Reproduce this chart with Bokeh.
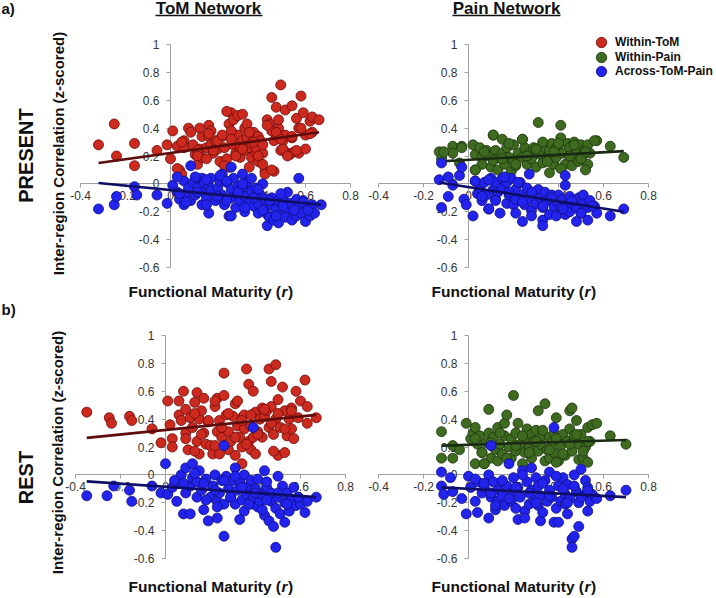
import math
import numpy as np
from bokeh.plotting import figure
from bokeh.layouts import column, row
from bokeh.models import (Range1d, LinearAxis, FixedTicker, CustomJSTickFormatter,
                          Label, Arrow, Legend, LegendItem)
from bokeh.embed import file_html
from bokeh.resources import INLINE

# ---------------- data ----------------
x_ticks = [-0.4, -0.2, 0.0, 0.2, 0.4, 0.6, 0.8]
y_ticks = [-0.6, -0.4, -0.2, 0.0, 0.2, 0.4, 0.6, 0.8, 1.0]
x_bounds = (-0.4, 0.8)
y_bounds = (-0.6, 1.0)

series_labels = ["Within-ToM", "Within-Pain", "Across-ToM-Pain"]

# a) PRESENT, ToM network
tom_present_within = [(-0.32,0.28),(-0.25,0.43),(-0.24,0.20),(-0.16,0.29),(-0.16,0.13),(-0.06,0.24),(-0.015,0.28),(0.01,0.38),(0.03,0.27),(0.04,0.10),(0.05,0.07),(0.06,0.31),(0.06,0.26),(0.08,0.40),(0.09,0.37),(0.10,0.28),(0.11,0.21),(0.12,0.14),(0.13,0.25),(0.14,0.34),(0.14,0.19),(0.16,0.26),(0.17,0.42),(0.17,0.34),(0.18,0.28),(0.18,0.38),(0.19,0.22),(0.20,0.31),(0.21,0.25),(0.22,0.16),(0.23,0.34),(0.24,0.26),(0.25,0.18),(0.26,0.43),(0.26,0.12),(0.27,0.51),(0.28,0.28),(0.28,0.46),(0.29,0.22),(0.30,0.49),(0.30,0.35),(0.31,0.26),(0.31,0.19),(0.32,0.31),(0.33,0.24),(0.33,0.40),(0.34,0.33),(0.35,0.26),(0.35,0.12),(0.36,0.19),(0.36,0.29),(0.37,0.37),(0.38,0.22),(0.38,0.26),(0.39,0.34),(0.39,0.16),(0.40,0.31),(0.41,0.22),(0.42,0.09),(0.42,0.07),(0.43,0.46),(0.44,0.43),(0.45,0.38),(0.45,0.62),(0.46,0.31),(0.46,0.09),(0.47,0.55),(0.48,0.40),(0.48,0.35),(0.48,0.46),(0.49,0.24),(0.49,0.71),(0.50,0.31),(0.51,0.53),(0.51,0.35),(0.52,0.22),(0.53,0.21),(0.54,0.33),(0.54,0.56),(0.55,0.23),(0.56,0.47),(0.57,0.22),(0.57,0.40),(0.58,0.63),(0.59,0.51),(0.60,0.35),(0.60,0.25),(0.62,0.45),(0.63,0.37),(0.63,0.48),(0.66,0.46),(0.12,0.24),(0.21,0.31),(0.27,0.38),(0.25,0.52),(0.32,0.50),(0.34,0.43),(0.00,0.18),(0.03,0.11),(0.05,0.30),(0.13,0.40),(0.17,0.36),(0.12,0.20),(0.16,0.18),(0.19,0.24),(0.23,0.35),(0.24,0.13),(0.27,0.32),(0.29,0.20),(0.32,0.25),(0.35,0.37),(0.37,0.30),(0.39,0.20),(0.41,0.14),(0.41,0.28),(0.45,0.10),(0.43,0.42),(0.47,0.37),(0.49,0.32),(0.50,0.25),(0.52,0.20),(0.56,0.24),(0.54,0.34),(0.58,0.40),(0.62,0.36)]
tom_present_across = [(-0.32,-0.18),(-0.25,-0.15),(-0.24,-0.09),(-0.16,-0.02),(-0.15,-0.08),(-0.06,-0.08),(-0.015,-0.14),(0.01,-0.01),(0.03,-0.06),(0.04,-0.11),(0.06,0.02),(0.06,-0.15),(0.07,-0.07),(0.08,-0.03),(0.09,-0.12),(0.09,0.13),(0.10,0.01),(0.11,-0.08),(0.12,0.04),(0.12,-0.03),(0.14,-0.15),(0.14,0.04),(0.15,-0.06),(0.15,0.01),(0.16,-0.10),(0.17,-0.21),(0.17,-0.02),(0.18,0.04),(0.18,-0.05),(0.20,-0.12),(0.21,-0.03),(0.22,0.02),(0.23,0.07),(0.23,-0.08),(0.24,-0.15),(0.25,0.01),(0.26,-0.23),(0.27,-0.04),(0.27,-0.10),(0.27,0.12),(0.28,0.04),(0.29,-0.17),(0.30,-0.02),(0.30,-0.08),(0.31,-0.12),(0.32,0.07),(0.32,-0.03),(0.33,-0.20),(0.33,-0.09),(0.34,0.01),(0.35,-0.14),(0.36,-0.05),(0.36,0.04),(0.37,-0.16),(0.38,-0.10),(0.38,-0.03),(0.39,-0.21),(0.39,-0.14),(0.40,-0.08),(0.41,0.00),(0.42,-0.17),(0.42,-0.11),(0.43,-0.22),(0.43,-0.30),(0.44,-0.24),(0.45,-0.15),(0.45,-0.10),(0.46,-0.26),(0.47,-0.18),(0.48,-0.12),(0.48,-0.28),(0.49,-0.22),(0.50,-0.15),(0.50,-0.10),(0.51,-0.24),(0.52,-0.06),(0.53,-0.18),(0.53,-0.14),(0.54,-0.26),(0.55,-0.20),(0.56,-0.11),(0.56,-0.23),(0.57,0.04),(0.57,-0.16),(0.58,-0.21),(0.59,-0.12),(0.60,-0.27),(0.61,-0.17),(0.62,-0.23),(0.63,-0.15),(0.64,-0.21),(0.67,-0.15),(0.03,0.05),(0.11,0.05),(0.16,0.03),(0.22,0.06),(0.04,-0.07),(0.07,-0.13),(0.12,-0.06),(0.16,-0.15),(0.21,-0.09),(0.25,-0.12),(0.30,-0.06),(0.33,-0.17),(0.37,-0.10),(0.41,-0.19),(0.44,-0.12),(0.47,-0.23),(0.50,-0.16),(0.55,-0.19),(0.59,-0.13),(0.61,-0.19),(0.25,0.02),(0.32,0.00),(0.39,-0.04),(0.27,-0.23),(0.49,-0.07)]

# a) PRESENT, Pain network
pain_present_within = [(-0.13,0.23),(-0.12,0.18),(-0.07,0.27),(-0.07,0.22),(-0.04,0.15),(-0.03,0.27),(0.02,0.28),(0.03,0.21),(0.03,0.10),(0.05,0.26),(0.06,0.19),(0.06,0.14),(0.08,0.24),(0.09,0.20),(0.10,0.12),(0.11,0.35),(0.12,0.24),(0.12,0.18),(0.13,0.10),(0.15,0.32),(0.15,0.22),(0.16,0.14),(0.17,0.26),(0.18,0.19),(0.19,0.09),(0.20,0.28),(0.20,0.16),(0.21,0.13),(0.22,0.22),(0.24,0.32),(0.24,0.19),(0.25,0.26),(0.26,0.14),(0.27,0.22),(0.28,0.18),(0.29,0.26),(0.30,0.12),(0.31,0.44),(0.32,0.21),(0.33,0.29),(0.33,0.15),(0.34,0.26),(0.35,0.19),(0.36,0.08),(0.36,0.24),(0.37,0.29),(0.38,0.14),(0.39,0.26),(0.39,0.19),(0.40,0.28),(0.41,0.42),(0.41,0.33),(0.42,0.22),(0.43,0.14),(0.44,0.29),(0.45,0.20),(0.45,0.26),(0.46,0.13),(0.47,0.30),(0.48,0.19),(0.48,0.25),(0.49,0.16),(0.50,0.28),(0.51,0.21),(0.52,0.25),(0.53,0.14),(0.53,0.28),(0.54,0.22),(0.57,0.31),(0.63,0.27),(0.69,0.19),(0.11,0.17),(-0.11,0.23),(-0.03,0.26),(0.03,0.10),(0.07,0.23),(0.11,0.35),(0.15,0.18),(0.18,0.29),(0.21,0.14),(0.24,0.32),(0.26,0.20),(0.30,0.25),(0.33,0.30),(0.35,0.16),(0.38,0.23),(0.40,0.29),(0.41,0.11),(0.45,0.20),(0.47,0.28),(0.50,0.18),(0.52,0.23),(0.56,0.31),(0.52,0.10)]
pain_present_across = [(-0.13,0.03),(-0.12,-0.17),(-0.12,0.15),(-0.09,0.05),(-0.09,-0.09),(-0.07,-0.01),(-0.04,0.06),(-0.03,0.12),(-0.02,-0.11),(-0.01,-0.15),(0.02,-0.23),(0.03,0.02),(0.04,-0.07),(0.05,-0.03),(0.06,-0.12),(0.07,0.01),(0.08,-0.08),(0.09,-0.18),(0.10,0.04),(0.11,-0.04),(0.12,-0.11),(0.12,0.01),(0.13,-0.06),(0.14,-0.21),(0.15,0.04),(0.15,-0.03),(0.17,-0.14),(0.17,0.01),(0.18,-0.08),(0.19,0.04),(0.20,-0.15),(0.21,-0.04),(0.21,-0.11),(0.23,0.01),(0.24,-0.27),(0.24,-0.08),(0.25,-0.15),(0.26,-0.03),(0.27,-0.11),(0.27,0.07),(0.28,-0.19),(0.29,-0.06),(0.30,-0.14),(0.31,-0.04),(0.32,-0.10),(0.33,-0.26),(0.33,-0.30),(0.33,-0.17),(0.34,-0.06),(0.35,-0.12),(0.36,-0.22),(0.37,-0.08),(0.38,-0.16),(0.39,-0.12),(0.39,-0.23),(0.40,-0.08),(0.41,-0.17),(0.42,-0.11),(0.43,0.06),(0.43,-0.22),(0.44,-0.15),(0.45,-0.09),(0.45,-0.20),(0.46,-0.14),(0.48,-0.27),(0.48,-0.17),(0.49,-0.10),(0.50,-0.21),(0.51,-0.14),(0.51,-0.08),(0.53,-0.26),(0.53,-0.17),(0.54,-0.12),(0.56,-0.16),(0.57,-0.21),(0.63,-0.23),(0.69,-0.18),(0.03,0.02),(0.09,0.03),(0.16,0.05),(0.22,0.01),(0.06,-0.09),(0.12,-0.12),(0.18,-0.06),(0.24,-0.13),(0.28,-0.06),(0.33,-0.16),(0.37,-0.10),(0.42,-0.18),(0.46,-0.12),(0.50,-0.21),(0.55,-0.16),(0.28,-0.23),(0.09,-0.18),(0.21,-0.21),(0.43,-0.01)]

# b) REST, ToM network
tom_rest_within = [(-0.35,0.45),(-0.25,0.41),(-0.24,0.37),(-0.16,0.42),(-0.15,0.39),(-0.06,0.33),(-0.02,0.23),(0.01,0.53),(0.02,0.36),(0.03,0.26),(0.03,0.20),(0.06,0.53),(0.06,0.43),(0.07,0.39),(0.08,0.60),(0.09,0.47),(0.09,0.30),(0.10,0.18),(0.11,0.41),(0.12,0.34),(0.13,0.52),(0.14,0.59),(0.14,0.24),(0.15,0.40),(0.15,0.15),(0.16,0.46),(0.17,0.30),(0.17,0.55),(0.18,0.22),(0.19,0.38),(0.20,0.21),(0.21,0.15),(0.22,0.49),(0.23,0.31),(0.23,0.55),(0.24,0.15),(0.24,0.39),(0.25,0.27),(0.26,0.73),(0.26,0.57),(0.27,0.43),(0.28,0.18),(0.28,0.31),(0.29,0.24),(0.30,0.42),(0.31,0.14),(0.31,0.51),(0.32,0.35),(0.32,0.53),(0.33,0.27),(0.34,0.41),(0.34,0.20),(0.34,0.08),(0.35,0.33),(0.35,0.43),(0.36,0.76),(0.37,0.24),(0.37,0.65),(0.38,0.35),(0.38,0.18),(0.39,0.60),(0.39,0.27),(0.40,0.45),(0.40,0.15),(0.41,0.31),(0.42,0.40),(0.43,0.48),(0.43,0.27),(0.44,0.42),(0.45,0.46),(0.46,0.34),(0.46,0.76),(0.47,0.67),(0.47,0.49),(0.48,0.29),(0.49,0.40),(0.49,0.79),(0.50,0.14),(0.50,0.54),(0.51,0.34),(0.52,0.63),(0.53,0.16),(0.53,0.46),(0.54,0.28),(0.55,0.40),(0.56,0.33),(0.56,0.48),(0.57,0.26),(0.58,0.60),(0.59,0.41),(0.60,0.53),(0.62,0.68),(0.63,0.37),(0.63,0.49),(0.67,0.41),(0.09,0.26),(0.13,0.17),(0.16,0.29),(0.19,0.39),(0.22,0.21),(0.25,0.34),(0.28,0.44),(0.31,0.27),(0.34,0.39),(0.36,0.22),(0.38,0.43),(0.41,0.29),(0.44,0.47),(0.47,0.37),(0.50,0.44),(0.53,0.33),(0.56,0.46),(0.48,0.17),(0.22,0.53),(0.13,0.44)]
tom_rest_across = [(-0.35,-0.15),(-0.26,-0.15),(-0.23,-0.08),(-0.16,-0.11),(-0.15,-0.19),(-0.06,-0.08),(-0.02,-0.13),(0.00,0.08),(0.01,-0.14),(0.03,-0.09),(0.05,-0.19),(0.06,-0.05),(0.07,0.00),(0.08,-0.28),(0.09,-0.13),(0.09,0.05),(0.11,-0.28),(0.11,-0.08),(0.12,0.08),(0.12,-0.02),(0.14,-0.16),(0.14,-0.05),(0.15,0.03),(0.16,-0.11),(0.17,-0.25),(0.18,-0.03),(0.19,-0.33),(0.20,-0.16),(0.21,-0.08),(0.22,0.00),(0.23,-0.19),(0.23,-0.31),(0.24,-0.13),(0.25,-0.04),(0.26,-0.44),(0.26,-0.21),(0.27,-0.01),(0.28,-0.10),(0.29,-0.16),(0.30,-0.04),(0.31,0.05),(0.31,-0.21),(0.32,-0.11),(0.33,-0.32),(0.33,-0.05),(0.34,-0.18),(0.35,0.00),(0.35,-0.26),(0.36,-0.14),(0.37,-0.08),(0.38,-0.21),(0.38,-0.04),(0.39,-0.16),(0.40,-0.10),(0.41,-0.23),(0.41,-0.03),(0.42,-0.19),(0.43,-0.14),(0.44,-0.29),(0.44,0.03),(0.45,-0.09),(0.46,-0.33),(0.47,-0.19),(0.47,-0.13),(0.48,-0.37),(0.49,-0.24),(0.49,-0.52),(0.50,-0.01),(0.50,-0.16),(0.51,-0.28),(0.52,-0.08),(0.53,-0.20),(0.53,-0.34),(0.54,-0.13),(0.55,-0.26),(0.56,-0.18),(0.57,-0.09),(0.58,-0.22),(0.59,-0.16),(0.60,-0.21),(0.62,-0.27),(0.63,-0.19),(0.67,-0.16),(0.39,0.34),(0.26,0.21),(0.04,-0.04),(0.08,-0.06),(0.13,0.01),(0.17,-0.06),(0.22,-0.11),(0.26,-0.04),(0.29,-0.16),(0.34,-0.09),(0.37,-0.21),(0.40,-0.13),(0.43,-0.25),(0.45,-0.18),(0.50,-0.13),(0.54,-0.21),(0.59,-0.16),(0.23,-0.23),(0.18,-0.18),(0.31,-0.01),(0.45,-0.05)]

# b) REST, Pain network
pain_rest_within = [(-0.12,0.31),(-0.12,0.12),(-0.07,0.12),(-0.07,0.21),(-0.04,0.18),(-0.01,0.37),(0.01,0.26),(0.02,0.30),(0.03,0.08),(0.03,0.34),(0.04,0.22),(0.05,0.28),(0.06,0.16),(0.07,0.08),(0.08,0.23),(0.09,0.30),(0.09,0.47),(0.10,0.12),(0.11,0.27),(0.12,0.18),(0.13,0.34),(0.13,0.10),(0.14,0.22),(0.15,0.15),(0.16,0.37),(0.16,0.28),(0.17,0.43),(0.18,0.20),(0.19,0.12),(0.19,0.26),(0.20,0.57),(0.21,0.17),(0.21,0.30),(0.22,0.37),(0.23,0.22),(0.24,0.08),(0.25,0.27),(0.25,0.16),(0.26,0.33),(0.27,0.20),(0.28,0.29),(0.28,0.12),(0.29,0.24),(0.30,0.32),(0.31,0.17),(0.31,0.46),(0.32,0.22),(0.33,0.28),(0.34,0.10),(0.34,0.51),(0.35,0.18),(0.36,0.27),(0.36,0.12),(0.37,0.23),(0.38,0.30),(0.38,0.16),(0.39,0.41),(0.40,0.26),(0.40,0.10),(0.41,0.21),(0.42,0.29),(0.43,0.14),(0.44,0.24),(0.45,0.33),(0.45,0.46),(0.46,0.48),(0.46,0.17),(0.47,0.28),(0.48,0.39),(0.49,0.11),(0.49,0.22),(0.50,0.29),(0.51,0.12),(0.52,0.20),(0.53,0.34),(0.53,0.09),(0.54,0.24),(0.55,0.36),(0.57,0.37),(0.63,0.28),(0.70,0.22),(0.03,0.26),(0.06,0.16),(0.10,0.23),(0.14,0.30),(0.17,0.12),(0.21,0.21),(0.24,0.28),(0.27,0.16),(0.30,0.24),(0.33,0.32),(0.36,0.18),(0.39,0.26),(0.42,0.15),(0.45,0.22),(0.48,0.29),(0.51,0.17),(0.53,0.24),(0.07,0.08),(0.39,0.09)]
pain_rest_across = [(-0.12,0.02),(-0.12,-0.08),(-0.11,-0.14),(-0.08,-0.02),(-0.07,-0.12),(-0.03,-0.17),(-0.01,-0.28),(0.00,-0.01),(0.01,-0.09),(0.03,-0.19),(0.04,-0.27),(0.04,-0.05),(0.06,-0.13),(0.07,-0.09),(0.09,0.00),(0.09,-0.31),(0.10,-0.16),(0.11,-0.05),(0.12,-0.25),(0.13,-0.11),(0.13,-0.19),(0.15,-0.05),(0.15,-0.15),(0.16,-0.22),(0.17,-0.08),(0.18,0.08),(0.19,-0.19),(0.19,-0.13),(0.20,-0.02),(0.21,-0.24),(0.22,-0.32),(0.22,-0.09),(0.23,-0.16),(0.24,0.03),(0.25,-0.26),(0.25,-0.31),(0.26,-0.05),(0.27,-0.21),(0.28,-0.11),(0.28,0.05),(0.29,-0.18),(0.30,-0.02),(0.31,-0.22),(0.31,-0.08),(0.32,-0.33),(0.32,-0.15),(0.33,-0.27),(0.34,-0.04),(0.35,-0.19),(0.36,-0.11),(0.36,0.02),(0.37,-0.16),(0.38,-0.34),(0.39,-0.24),(0.40,-0.34),(0.40,-0.08),(0.41,-0.19),(0.42,-0.02),(0.43,-0.14),(0.43,-0.21),(0.44,-0.07),(0.44,-0.28),(0.45,-0.17),(0.46,-0.46),(0.46,-0.52),(0.47,0.00),(0.47,-0.44),(0.48,-0.12),(0.49,-0.37),(0.49,-0.20),(0.50,0.04),(0.51,-0.15),(0.52,-0.04),(0.53,-0.26),(0.53,-0.09),(0.54,-0.19),(0.55,-0.14),(0.57,-0.17),(0.63,-0.15),(0.70,-0.11),(0.38,0.34),(0.10,0.21),(0.03,-0.03),(0.07,-0.06),(0.10,-0.13),(0.15,-0.04),(0.18,-0.17),(0.21,-0.09),(0.24,0.00),(0.27,-0.13),(0.30,-0.20),(0.33,-0.06),(0.36,-0.15),(0.39,-0.01),(0.42,-0.10),(0.44,-0.20),(0.47,-0.08),(0.50,-0.16),(0.53,-0.11),(0.12,-0.22)]

# fitted trend lines: (intercept, slope)
tom_present_fit = {"within": (0.222, 0.224), "across": (-0.044, -0.158)}
pain_present_fit = {"within": (0.172, 0.091), "across": (-0.023, -0.256)}
tom_rest_fit = {"within": (0.322, 0.162), "across": (-0.0855, -0.111)}
pain_rest_fit = {"within": (0.216, 0.049), "across": (-0.100, -0.085)}

# ---------------- styling ----------------
FONT = "Liberation Sans"
RED = ("#cc2a1e", "#6b0d0d", "#5e0c0c")
GREEN = ("#3e6b1f", "#1e3510", "#1b2a12")
BLUE = ("#2323ee", "#0f0f80", "#0e0e66")
AXIS_GRAY = "#a0a0a0"
TXT = "#111111"


class Panel:
    """A figure whose frame covers the whole canvas; the axes are bounded
    to the data extents and sit at pixel box `box` (page px)."""

    def __init__(self, fx, fy, fw, fh, box):
        self.fx, self.fy, self.fw, self.fh = fx, fy, fw, fh
        left, top, right, bottom = box
        ux = (x_bounds[1] - x_bounds[0]) / (right - left)
        uy = (y_bounds[1] - y_bounds[0]) / (bottom - top)
        xr = Range1d(x_bounds[0] - (left - fx) * ux, x_bounds[1] + (fx + fw - right) * ux)
        yr = Range1d(y_bounds[0] - (fy + fh - bottom) * uy, y_bounds[1] + (top - fy) * uy)
        p = figure(width=fw, height=fh, x_range=xr, y_range=yr,
                   x_axis_type=None, y_axis_type=None,
                   toolbar_location=None, output_backend="svg",
                   min_border=0, outline_line_color=None)
        for ticks, place, standoff, bnd in ((x_ticks, "below", 3, x_bounds),
                                            (y_ticks, "left", 7, y_bounds)):
            ax = LinearAxis(fixed_location=0, bounds=bnd, ticker=FixedTicker(ticks=ticks),
                            formatter=CustomJSTickFormatter(code="return String(Number(tick.toFixed(1)));"),
                            axis_line_color=AXIS_GRAY, axis_line_width=1,
                            major_tick_line_color=AXIS_GRAY, major_tick_out=4, major_tick_in=0,
                            minor_tick_line_color=None,
                            major_label_text_font=FONT, major_label_text_font_size="12px",
                            major_label_text_color="#333333", major_label_standoff=standoff,
                            level="underlay")
            p.add_layout(ax, place)
        self.p = p

    def sx(self, X):
        return X - self.fx

    def sy(self, Y):
        return self.fy + self.fh - Y

    def series(self, pts, fit, colors):
        xs = np.array([a for a, b in pts])
        ys = np.array([b for a, b in pts])
        fill, edge, line = colors
        r = self.p.scatter(xs, ys, size=10, fill_color=fill, line_color=edge, line_width=0.8)
        a, b = fit
        lx = np.array([xs.min(), xs.max()])
        self.p.line(lx, a + b * lx, line_color=line, line_width=2.6)
        return r

    def text(self, X, Y, text, size, style="bold", align="center", angle=0.0):
        self.p.add_layout(Label(x=self.sx(X), y=self.sy(Y), x_units="screen", y_units="screen",
                                text=text, text_font=FONT, text_font_size=f"{size}px",
                                text_font_style=style, text_align=align, text_baseline="middle",
                                angle=angle, text_color=TXT))

    def underline(self, X0, X1, Y):
        self.p.add_layout(Arrow(end=None, x_start=self.sx(X0), y_start=self.sy(Y),
                                x_end=self.sx(X1), y_end=self.sy(Y),
                                start_units="screen", end_units="screen",
                                line_color=TXT, line_width=1.5))

    def xlabel(self, C, Y):
        self.text(C + 71.5, Y, "Functional Maturity (", 15.5, align="right")
        self.text(C + 72.0, Y, "r", 15.5, style="bold italic", align="left")
        self.text(C + 78.6, Y, ")", 15.5, align="left")


# panels: figure rect (x, y, w, h) and axis box (left, top, right, bottom), page px
P_TL = Panel(0, 0, 360, 300, (80, 44, 350, 267))
P_TR = Panel(360, 0, 356, 300, (378, 44, 648, 267))
P_BL = Panel(0, 300, 360, 298, (75, 335, 345, 558))
P_BR = Panel(360, 300, 356, 298, (378, 335, 648, 558))

P_TL.series(tom_present_within, tom_present_fit["within"], RED)
P_TL.series(tom_present_across, tom_present_fit["across"], BLUE)
r_green = P_TR.series(pain_present_within, pain_present_fit["within"], GREEN)
r_blue = P_TR.series(pain_present_across, pain_present_fit["across"], BLUE)
P_BL.series(tom_rest_within, tom_rest_fit["within"], RED)
P_BL.series(tom_rest_across, tom_rest_fit["across"], BLUE)
P_BR.series(pain_rest_within, pain_rest_fit["within"], GREEN)
P_BR.series(pain_rest_across, pain_rest_fit["across"], BLUE)

# legend key for Within-ToM (no points of that series in this panel: an undrawn NaN placeholder)
r_red_key = P_TR.p.scatter([np.nan], [np.nan], size=10, fill_color=RED[0], line_color=RED[1], line_width=0.8)
for label, rend, cy in zip(series_labels, [r_red_key, r_green, r_blue], [42, 56.5, 71]):
    lg = Legend(items=[LegendItem(label=label, renderers=[rend])],
                location=(P_TR.sx(588), P_TR.sy(cy + 13)), orientation="vertical",
                background_fill_alpha=0, border_line_color=None,
                label_text_font=FONT, label_text_font_style="bold",
                label_text_font_size="12px", label_text_color=TXT,
                glyph_width=26, glyph_height=26, label_height=12,
                spacing=0, padding=0, margin=0, label_standoff=1)
    P_TR.p.add_layout(lg)

# texts
P_TL.text(1, 8, "a)", 15, align="left")
P_TL.text(208, 7.5, "ToM Network", 17)
P_TL.underline(155, 262, 15)
P_TL.text(25, 155, "PRESENT", 20, angle=math.pi / 2)
P_TL.text(58, 153, "Inter-region Correlation (z-scored)", 15, angle=math.pi / 2)
P_TL.xlabel(209, 291)

P_TR.text(506, 7.5, "Pain Network", 17)
P_TR.underline(452, 560, 15)
P_TR.xlabel(512, 291)

P_BL.text(1, 309, "b)", 15, align="left")
P_BL.text(25, 477, "REST", 20, angle=math.pi / 2)
P_BL.text(57, 452, "Inter-region Correlation (z-scored)", 15, angle=math.pi / 2)
P_BL.xlabel(209, 586)

P_BR.xlabel(512, 586)

layout = column(row(P_TL.p, P_TR.p), row(P_BL.p, P_BR.p))
open("out.html", "w").write(file_html(layout, INLINE))
